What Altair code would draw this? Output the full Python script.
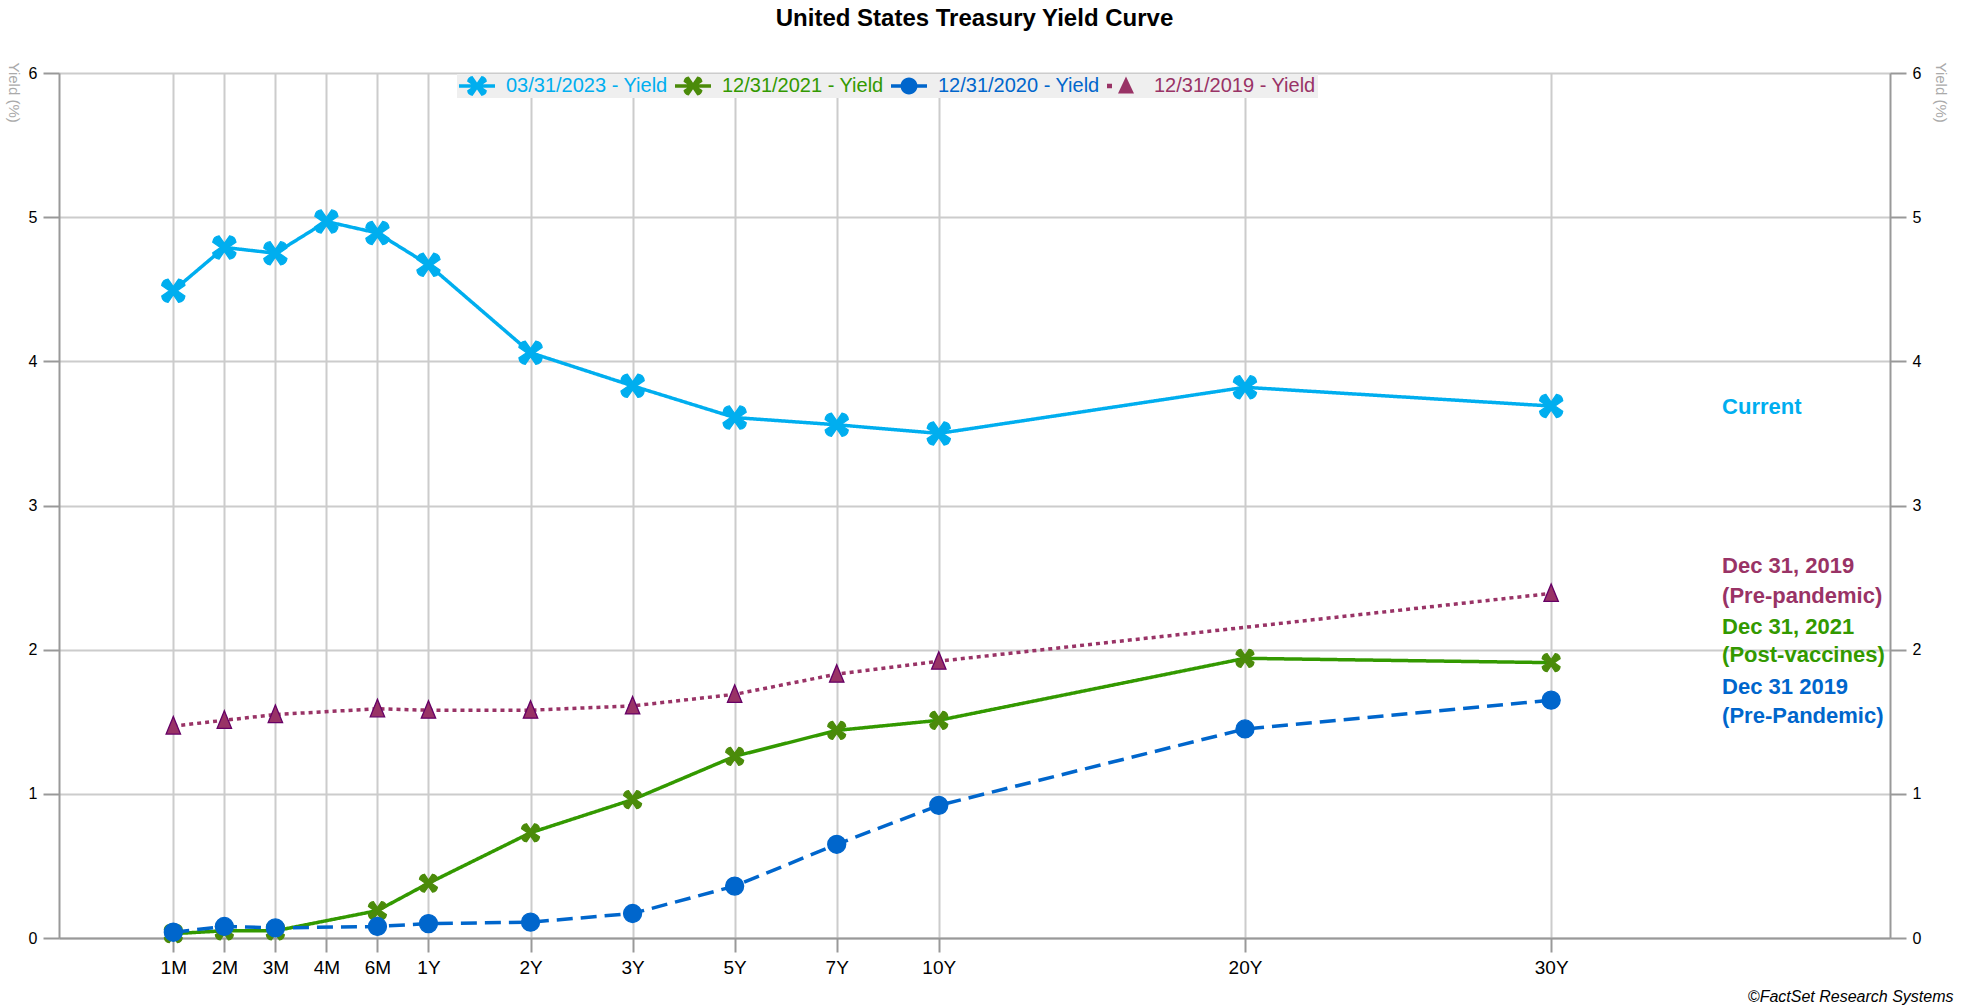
import math
import altair as alt
import pandas as pd

FONT = "Liberation Sans"

# ---------------- data ----------------
tenors = ["1M", "2M", "3M", "4M", "6M", "1Y", "2Y", "3Y", "5Y", "7Y", "10Y", "20Y", "30Y"]
tenor_slots = [0, 1, 2, 3, 4, 5, 7, 9, 11, 13, 15, 21, 27]

series_names = ["03/31/2023 - Yield", "12/31/2021 - Yield", "12/31/2020 - Yield", "12/31/2019 - Yield"]
yield_2023 = [4.49, 4.79, 4.75, 4.97, 4.89, 4.67, 4.06, 3.83, 3.61, 3.56, 3.50, 3.82, 3.69]
yield_2021 = [0.03, 0.05, 0.05, None, 0.19, 0.38, 0.73, 0.96, 1.26, 1.44, 1.51, 1.94, 1.91]
yield_2020 = [0.04, 0.08, 0.07, None, 0.08, 0.10, 0.11, 0.17, 0.36, 0.65, 0.92, 1.45, 1.65]
yield_2019 = [1.47, 1.51, 1.55, None, 1.59, 1.58, 1.58, 1.61, 1.69, 1.83, 1.92, None, 2.39]
y_ticks = [0, 1, 2, 3, 4, 5, 6]

note_text = ["Current", "Dec 31, 2019", "(Pre-pandemic)", "Dec 31, 2021",
             "(Post-vaccines)", "Dec 31 2019", "(Pre-Pandemic)"]
note_series = [0, 3, 3, 1, 1, 2, 2]
note_x = 30.35
note_y = [3.68, 2.58, 2.37, 2.16, 1.96, 1.74, 1.54]

title_text = "United States Treasury Yield Curve"
credit_text = "\u00a9FactSet Research Systems"

# ---------------- styles ----------------
line_colors = ["#00AEEF", "#339900", "#0066CC", "#993366"]
marker_fill = ["#00AEEF", "#4B8B0A", "#0066CC", "#993366"]
marker_stroke = ["#00AEEF", "#4B8B0A", "#0066CC", "#660066"]
line_dash = [[1, 0], [1, 0], [16, 8], [4, 4]]


def fmt(v):
    return f"{v:.3f}"


def x_path(s, cx=0.0):
    L, h_tip, h_in, cap = 0.85 * s, 0.32 * s, 0.2 * s, 0.25 * s
    def inner(t):
        r = h_in * math.sqrt(2)
        return (cx + r * math.cos(t), r * math.sin(t))
    angles = [math.radians(a) for a in (45, 135, 225, 315)]
    st = inner(angles[0] - math.pi / 4)
    out = [f"M{fmt(st[0])},{fmt(st[1])}"]
    for th in angles:
        d = (math.cos(th), math.sin(th))
        n = (-math.sin(th), math.cos(th))
        T = (cx + L * d[0], L * d[1])
        a = (T[0] - h_tip * n[0], T[1] - h_tip * n[1])
        b = (T[0] + h_tip * n[0], T[1] + h_tip * n[1])
        c = (T[0] + cap * d[0], T[1] + cap * d[1])
        nx = inner(th + math.pi / 4)
        out.append(f"L{fmt(a[0])},{fmt(a[1])}Q{fmt(c[0])},{fmt(c[1])} {fmt(b[0])},{fmt(b[1])}"
                   f"L{fmt(nx[0])},{fmt(nx[1])}")
    out.append("Z")
    return "".join(out)


def circle_path(r, cx=0.0):
    return (f"M{fmt(cx - r)},0A{fmt(r)},{fmt(r)} 0 1,1 {fmt(cx + r)},0"
            f"A{fmt(r)},{fmt(r)} 0 1,1 {fmt(cx - r)},0Z")


def tri_path(w, top, bot, cx=0.0):
    return f"M{fmt(cx)},{fmt(-top)}L{fmt(cx + w)},{fmt(bot)}L{fmt(cx - w)},{fmt(bot)}Z"


def bar_path(x0, x1, h=0.17):
    return f"M{fmt(x0)},{fmt(-h)}L{fmt(x1)},{fmt(-h)}L{fmt(x1)},{fmt(h)}L{fmt(x0)},{fmt(h)}Z"


marker_paths = [x_path(1.4), x_path(1.08), circle_path(0.9), tri_path(0.72, 0.95, 0.8)]
# legend glyphs: a short line with the marker, starting at the nominal symbol's left edge
LS = 0.8
legend_paths = [
    bar_path(-1.8 + LS, 1.8 + LS) + x_path(1.2, LS),
    bar_path(-1.8 + LS, 1.8 + LS) + x_path(1.15, LS),
    bar_path(-1.8 + LS, 1.8 + LS) + circle_path(0.85, LS),
    bar_path(-1.8 + LS, -1.3 + LS, 0.22) + tri_path(0.8, 0.95, 0.75, 0.1 + LS),
]


def case_expr(values, outputs):
    e = f"'{outputs[-1]}'"
    for v, o in reversed(list(zip(values[:-1], outputs[:-1]))):
        e = f"datum.value === '{v}' ? '{o}' : " + e
    return e


# ---------------- tables ----------------
rows = []
for name, vals in zip(series_names, [yield_2023, yield_2021, yield_2020, yield_2019]):
    for t, s, v in zip(tenors, tenor_slots, vals):
        if v is not None:
            rows.append({"series": name, "tenor": t, "slot": s, "yield": v})
df = pd.DataFrame(rows)

notes = pd.DataFrame({
    "text": note_text,
    "slot": [note_x] * len(note_text),
    "yield": note_y,
    "series": [series_names[i] for i in note_series],
})

label_expr = (
    "[" + ",".join(f"'{t}'" for t in tenors) + "][indexof(["
    + ",".join(str(s) for s in tenor_slots) + "], datum.value)]"
)

x_scale = alt.Scale(domain=[-2.24, 33.64], nice=False, zero=False)
y_scale = alt.Scale(domain=[0, 6], nice=False)
color_scale = alt.Scale(domain=series_names, range=line_colors)
fill_scale = alt.Scale(domain=series_names, range=marker_fill)

x_axis = alt.Axis(
    values=tenor_slots, labelExpr=label_expr, grid=True, gridColor="#CCCCCC", gridWidth=2,
    domainColor="#999999", domainWidth=2, tickColor="#999999", tickWidth=2, tickSize=14,
    labelFontSize=19, labelColor="#000000", labelFont=FONT, labelPadding=6,
    labelFlush=False, labelOverlap=False,
    title=credit_text, titleFont=FONT, titleFontStyle="italic", titleFontWeight="normal",
    titleFontSize=16, titleColor="#000000", titleAlign="right", titleBaseline="middle",
    titleX=1894, titleY=58,
)

y_axis_common = dict(
    values=y_ticks, format="d", domainColor="#999999", domainWidth=2, tickColor="#999999",
    tickWidth=2, tickSize=16, labelFontSize=16, labelColor="#000000", labelFont=FONT,
    labelPadding=6, title="Yield (%)", titleFont=FONT, titleColor="#AAAAAA", titleFontSize=15,
    titleFontWeight="normal", titleAngle=90, titleAlign="left", titleBaseline="middle",
    titleY=-11,
)
y_axis_left = alt.Axis(orient="left", grid=True, gridColor="#CCCCCC", gridWidth=2,
                       titleX=-46, **y_axis_common)
y_axis_right = alt.Axis(orient="right", grid=False, titleX=50, **y_axis_common)

X = alt.X("slot:Q", scale=x_scale, axis=x_axis)

lines = alt.Chart(df).mark_line(strokeWidth=3.5).encode(
    x=X,
    y=alt.Y("yield:Q", scale=y_scale, axis=y_axis_left),
    color=alt.Color("series:N", scale=color_scale, legend=None),
    strokeDash=alt.StrokeDash("series:N", scale=alt.Scale(domain=series_names, range=line_dash),
                              legend=None),
    order=alt.Order("slot:Q"),
)

points = alt.Chart(df).mark_point(filled=True, opacity=1, size=400, strokeWidth=1.3).encode(
    x=X,
    y=alt.Y("yield:Q", scale=y_scale, axis=y_axis_right),
    fill=alt.Fill("series:N", scale=fill_scale, legend=None),
    stroke=alt.Stroke("series:N", scale=alt.Scale(domain=series_names, range=marker_stroke),
                      legend=None),
    shape=alt.Shape("series:N", scale=alt.Scale(domain=series_names, range=marker_paths),
                    legend=None),
)

legend = alt.Legend(
    title=None, orient="none", legendX=398, legendY=1, direction="horizontal",
    fillColor="#EFEFEF", padding=2, symbolSize=400,
    symbolType={"expr": case_expr(series_names, legend_paths)},
    symbolStrokeWidth=0, symbolOpacity=1,
    labelFont=FONT, labelFontSize=20, labelLimit=0,
    labelColor={"expr": case_expr(series_names, line_colors)},
    labelOffset=27, columnPadding=7,
)

legend_layer = alt.Chart(df).mark_point(filled=True, opacity=0, size=1).encode(
    x=X,
    y=alt.Y("yield:Q", scale=y_scale, axis=None),
    fill=alt.Fill("series:N", scale=fill_scale, legend=legend),
)

texts = alt.Chart(notes).mark_text(
    align="left", baseline="middle", fontSize=22, fontWeight="bold", font=FONT
).encode(
    x=X,
    y=alt.Y("yield:Q", scale=y_scale, axis=None),
    text="text:N",
    color=alt.Color("series:N", scale=color_scale, legend=None),
)

chart = (
    alt.layer(lines, points, legend_layer, texts)
    .resolve_axis(y="independent")
    .resolve_legend(fill="independent")
    .properties(
        width=1831, height=865,
        autosize=alt.AutoSizeParams(type="none"),
        padding={"left": 59, "top": 73, "right": 75, "bottom": 68},
        background="white",
        title=alt.TitleParams(title_text, font=FONT, fontSize=24, fontWeight="bold",
                              color="#000000", anchor="middle", offset=31),
    )
    .configure_view(stroke=None)
    .configure(font=FONT)
)

chart.save("out.html", embed_options={"renderer": "svg", "actions": False})
